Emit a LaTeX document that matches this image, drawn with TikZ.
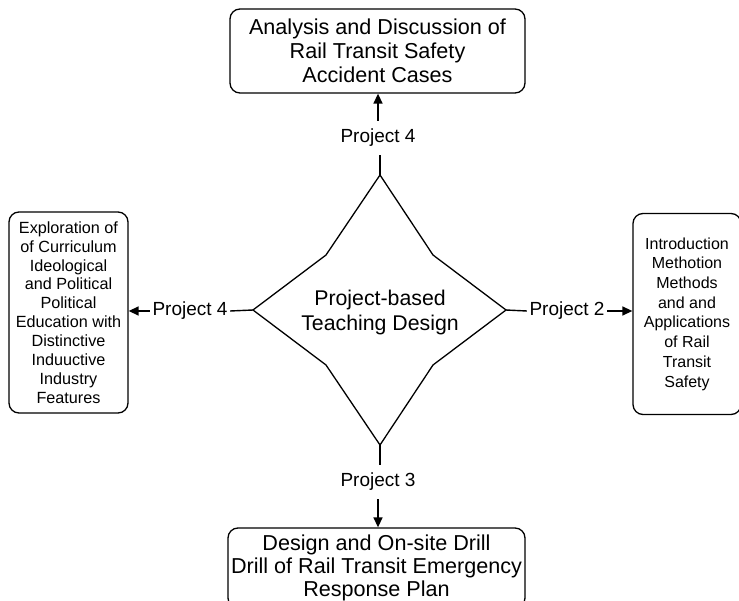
\documentclass[tikz,border=0pt]{standalone}
\usepackage{fontspec}
\setmainfont{Liberation Sans}
\usetikzlibrary{arrows.meta}

\tikzset{
  box/.style={draw, line width=1.3pt, rounded corners=10pt, align=center, inner sep=0pt},
  tag/.style={inner sep=0pt, font=\fontsize{19}{22}\selectfont},
  link/.style={line width=1.4pt},
  flow/.style={line width=1.4pt, -{Triangle[length=10pt,width=9pt]}},
  starline/.style={line width=1.3pt, line join=miter}
}

\begin{document}
\begin{tikzpicture}[x=1pt, y=-1pt]
  \clip (0,0) rectangle (739,601);
  \fill[white] (0,0) rectangle (739,601);

  % four-pointed star around the central theme
  \coordinate (sN) at (380,175);
  \coordinate (sNE) at (433,255);
  \coordinate (sE) at (506,310);
  \coordinate (sSE) at (433,365);
  \coordinate (sS) at (380,445);
  \coordinate (sSW) at (326,365);
  \coordinate (sW) at (253,310);
  \coordinate (sNW) at (326,255);
  \draw[starline] (sN) -- (sNE) -- (sE) -- (sSE) -- (sS) -- (sSW) -- (sW) -- (sNW) -- cycle;
  \node[align=center, font=\fontsize{21.3}{25}\selectfont] (core) at (380,312)
    {Project-based\\Teaching Design};

  % project boxes
  \node[box, minimum width=295pt, minimum height=84pt, font=\fontsize{21.6}{24}\selectfont]
    (north) at (377.5,51)
    {Analysis and Discussion of\\Rail Transit Safety\\Accident Cases};
  \node[box, minimum width=297pt, minimum height=80pt, font=\fontsize{21.6}{23}\selectfont]
    (south) at (376.5,568)
    {Design and On-site Drill\\Drill of Rail Transit Emergency\\Response Plan};
  \node[box, minimum width=119pt, minimum height=201pt, font=\fontsize{16.2}{18.9}\selectfont]
    (west) at (68.5,312.5)
    {Exploration of\\of Curriculum\\Ideological\\and Political\\Political\\Education with\\Distinctive\\Induuctive\\Industry\\Features};
  \node[box, minimum width=108pt, minimum height=201pt, font=\fontsize{16}{19.7}\selectfont]
    (east) at (687,314)
    {Introduction\\Methotion\\Methods\\and and\\Applications\\of Rail\\Transit\\Safety};

  % project labels
  \node[tag, minimum height=34pt] (tagN) at (378,138) {Project 4};
  \node[tag, minimum height=34pt] (tagS) at (378,482) {Project 3};
  \node[tag, inner xsep=2.5pt] (tagW) at (190,311) {Project 4};
  \node[tag, inner xsep=2.5pt] (tagE) at (567,311) {Project 2};

  % connectors
  \draw[link] (sN) -- (sN |- tagN.south);
  \draw[flow] (tagN.north) -- (tagN.north |- north.south);
  \draw[link] (sS) -- (sS |- tagS.north);
  \draw[flow] (tagS.south) -- (tagS.south |- south.north);
  \draw[link] (sW) -- (tagW.east);
  \draw[flow] (tagW.west) -- (west.east |- tagW.west);
  \draw[link] (sE) -- (tagE.west);
  \draw[flow] (tagE.east) -- (east.west |- tagE.east);
\end{tikzpicture}
\end{document}
